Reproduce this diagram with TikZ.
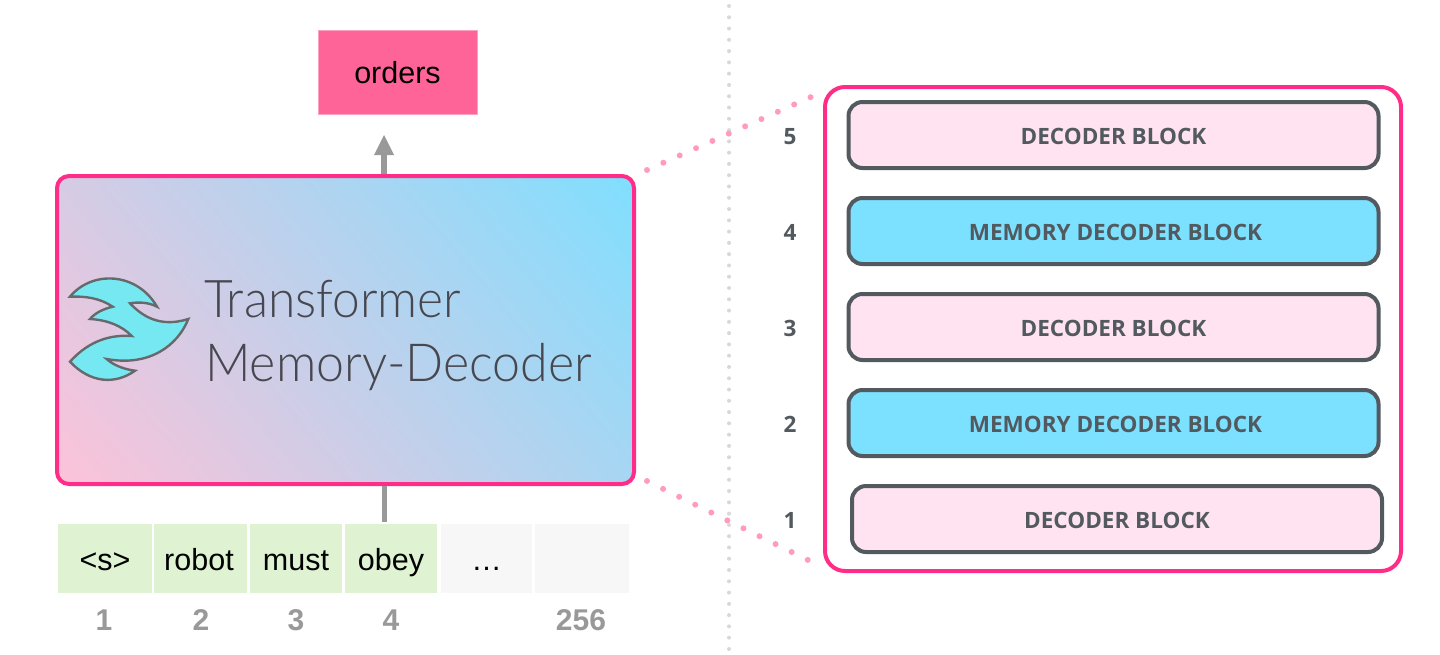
\documentclass[tikz,border=0pt]{standalone}
\usepackage{fontspec}
\setmainfont{Liberation Sans}
\newfontfamily\blockfont{Open Sans}[UprightFont=*,BoldFont=* Bold]
\newfontfamily\lightfont{Lato Light}[FakeStretch=0.955]
\definecolor{hotpink}{HTML}{FF2D87}
\definecolor{orderpink}{HTML}{FF6499}
\definecolor{dotpink}{HTML}{FF9BBD}
\definecolor{dotgray}{HTML}{D8D8D8}
\definecolor{arrowgray}{HTML}{999999}
\definecolor{slate}{HTML}{52595F}
\definecolor{softpink}{HTML}{FFE3F1}
\definecolor{skyblue}{HTML}{7CE0FF}
\definecolor{tokengreen}{HTML}{DFF3D3}
\definecolor{tokengray}{HTML}{F7F7F7}
\definecolor{logoblue}{HTML}{75E8F2}
\definecolor{logoline}{HTML}{666A6C}
\definecolor{titleink}{HTML}{47474F}
\definecolor{gradpink}{HTML}{FFC2D8}
\definecolor{gradcyan}{HTML}{7EDFFF}
\tikzset{
  x=1pt,y=-1pt,
  tokenbox/.style={minimum width=#1,minimum height=69pt,inner sep=0pt,outer sep=0pt,font=\fontsize{30.5}{30.5}\selectfont,text=black,text height=30pt,text depth=6pt},
  posnum/.style={font=\fontsize{30}{30}\selectfont\bfseries,text=arrowgray,inner sep=0pt},
  blockbox/.style={draw=slate,line width=4pt,rounded corners=14pt,minimum width=530pt,minimum height=66pt,inner sep=0pt,
    font=\blockfont\fontsize{22.5}{22.5}\selectfont\bfseries,text=slate,text height=18pt,text depth=0pt},
  layernum/.style={font=\blockfont\fontsize{22.5}{22.5}\selectfont\bfseries,text=slate,inner sep=0pt,text height=16pt,text depth=0pt},
  pinkdots/.style={draw=dotpink,line width=6pt,line cap=round,dash pattern=on 0pt off 17.9pt},
  graydots/.style={draw=dotgray,line width=4pt,line cap=round,dash pattern=on 0pt off 11.28pt},
  flow/.style={draw=arrowgray,line width=6pt},
  titletext/.style={font=\lightfont\fontsize{#1}{52}\selectfont,text=titleink,inner sep=0pt,anchor=base west},
}
\begin{document}
\begin{tikzpicture}
\useasboundingbox (0,0) rectangle (1440,654);
% divider
\coordinate (divtop) at (729,6);
\coordinate (divbot) at (729,650);
\draw[graydots] (divtop) -- (divbot);
% gradient body
\begin{scope}
  \clip[rounded corners=12pt] (57,176) rectangle (634,484);
  \shade[bottom color=gradpink,top color=gradcyan,shading angle=-50] (14.5,-1) rectangle (676.5,661);
\end{scope}
\node[draw=hotpink,line width=4pt,rounded corners=12pt,minimum width=577pt,minimum height=308pt,inner sep=0pt] (main) at (345.5,330) {};
% logo
\draw[fill=logoblue,draw=logoline,line width=2.4pt,line join=miter]
  (70,296.7) .. controls (92,270) and (137,272) .. (157,306.7)
  .. controls (148,302) and (138,302) .. (130,303.3)
  .. controls (142,316) and (160,328) .. (188.3,319)
  .. controls (178,345) and (150,367) .. (106.7,359)
  .. controls (112,364) and (122,369) .. (135,370.7)
  .. controls (115,385) and (90,383) .. (70,361.7)
  .. controls (85,345) and (105,334) .. (131.7,336)
  .. controls (122,326) and (108,320) .. (90,319)
  .. controls (95,313) and (103,309) .. (112.7,306.7)
  .. controls (100,298) and (85,296) .. (70,296.7) -- cycle;
\node[titletext=52] (title1) at (204,317) {Transformer};
\node[titletext=52.5] (title2) at (205,381) {Memory-Decoder};
% output
\node[fill=orderpink,draw=orderpink!60!white,line width=0.5pt,minimum width=159pt,minimum height=84pt,inner sep=0pt,
  font=\fontsize{30.5}{30.5}\selectfont,text=black,text height=28pt,text depth=6pt] (orders) at (397.5,72) {orders};
\coordinate (outfoot) at (main.north -| 384,0);
\coordinate (outneck) at (384,155);
\coordinate (outtip) at (384,135);
\coordinate (outleft) at (374,155);
\coordinate (outright) at (394,155);
\draw[flow] (outfoot) -- (outneck);
\fill[arrowgray] (outtip) -- (outleft) -- (outright) -- cycle;
% tokens
\node[tokenbox=94pt,fill=tokengreen] (t1) at (105,558.5) {<s>};
\node[tokenbox=93pt,fill=tokengreen] (t2) at (200.5,558.5) {robot\kern3pt};
\node[tokenbox=92pt,fill=tokengreen] (t3) at (296,558.5) {must};
\node[tokenbox=92pt,fill=tokengreen] (t4) at (391,558.5) {obey};
\node[tokenbox=91pt,fill=tokengray] (t5) at (486.5,558.5) {…};
\node[tokenbox=94pt,fill=tokengray] (t6) at (582,558.5) {};
\coordinate (instop) at (main.south -| 384,0);
\coordinate (insbot) at (384,522);
\draw[flow,line width=5pt] (instop) -- (insbot);
\node[posnum] (n1) at (104,620) {1};
\node[posnum] (n2) at (201,620) {2};
\node[posnum] (n3) at (296,620) {3};
\node[posnum] (n4) at (391,620) {4};
\node[posnum] (n256) at (581,620) {256};
% right panel
\node[draw=hotpink,line width=4pt,rounded corners=20pt,minimum width=576pt,minimum height=484pt,inner sep=0pt] (panel) at (1113,329) {};
\node[blockbox,fill=softpink] (b5) at (1113.5,135) {DECODER BLOCK};
\node[blockbox,fill=skyblue] (b4) at (1113.5,231) {\kern4pt MEMORY DECODER BLOCK};
\node[blockbox,fill=softpink] (b3) at (1113.5,327) {DECODER BLOCK};
\node[blockbox,fill=skyblue] (b2) at (1113.5,423) {\kern4pt MEMORY DECODER BLOCK};
\node[blockbox,fill=softpink] (b1) at (1117,519) {DECODER BLOCK};
\node[layernum] (l5) at (790,136) {5};
\node[layernum] (l4) at (790,232) {4};
\node[layernum] (l3) at (790,328) {3};
\node[layernum] (l2) at (790,424) {2};
\node[layernum] (l1) at (790,520) {1};
% zoom lines
\coordinate (zta) at (647,170);
\coordinate (ztb) at (811,97);
\coordinate (zba) at (647,481);
\coordinate (zbb) at (808,560);
\draw[pinkdots] (zta) -- (ztb);
\draw[pinkdots] (zba) -- (zbb);
\end{tikzpicture}
\end{document}
